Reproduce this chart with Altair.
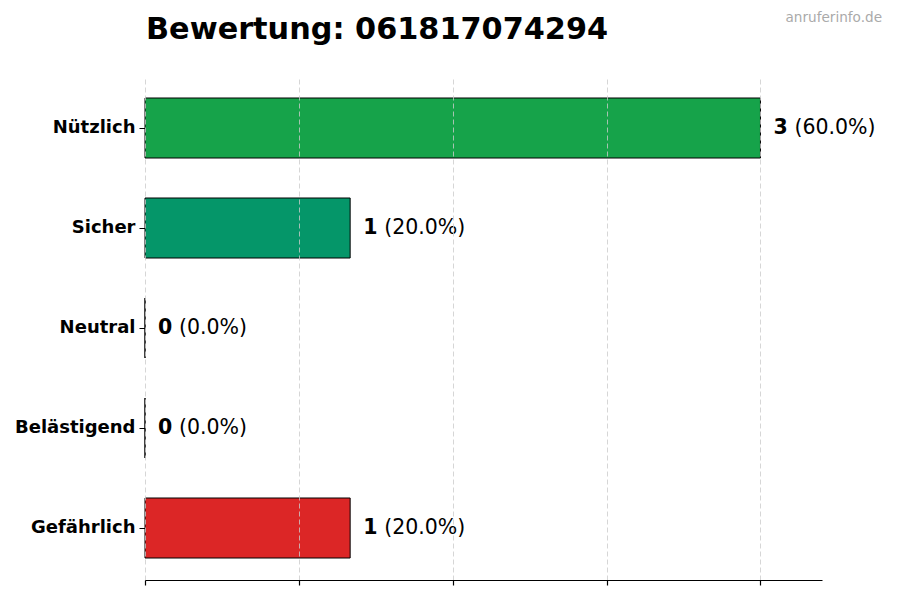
import altair as alt
import pandas as pd

categories = ["Nützlich", "Sicher", "Neutral", "Belästigend", "Gefährlich"]
counts = [3, 1, 0, 0, 1]
colors = ["#16a34a", "#059669", "#6b7280", "#f97316", "#dc2626"]
x_ticks = [0, 0.75, 1.5, 2.25, 3.0]
title_text = "Bewertung: 061817074294"
watermark = "anruferinfo.de"

total = sum(counts)
df = pd.DataFrame({
    "cat": categories,
    "count": counts,
    "color": colors,
    "cnt_label": [str(c) for c in counts],
    "pct_label": [f"({c / total * 100:.1f}%)" for c in counts],
})

FONT = "DejaVu Sans"

x_enc = alt.X("count:Q", scale=alt.Scale(domain=[0, 3.3], nice=False, zero=True),
              axis=alt.Axis(values=x_ticks, labels=False, title=None, grid=True,
                            gridColor="#cccccc", gridDash=[5, 3], gridWidth=0.8,
                            tickSize=5, tickColor="black", tickWidth=1.2,
                            domainColor="black", domainWidth=1.2, zindex=1))
y_enc = alt.Y("cat:N", sort=categories,
              scale=alt.Scale(paddingInner=0.4, paddingOuter=0.22),
              axis=alt.Axis(title=None, domain=False, labelFontWeight="bold",
                            labelFontSize=18, labelColor="black", labelFont=FONT,
                            tickSize=6, tickColor="black", tickWidth=1,
                            labelPadding=4))

base = alt.Chart(df)

bars = base.mark_bar(stroke="black", strokeWidth=1).encode(
    x=x_enc, y=y_enc,
    color=alt.Color("color:N", scale=None),
)

cnt_text = base.mark_text(align="left", baseline="middle", dx=13, fontSize=20.5,
                          fontWeight="bold", font=FONT, color="black").encode(
    x="count:Q", y=alt.Y("cat:N", sort=categories), text="cnt_label:N")

pct_text = base.mark_text(align="left", baseline="middle", dx=34, fontSize=20.5,
                          font=FONT, color="black").encode(
    x="count:Q", y=alt.Y("cat:N", sort=categories), text="pct_label:N")

wm = alt.Chart(pd.DataFrame({"t": [watermark]})).mark_text(
    align="right", baseline="alphabetic", fontSize=13.6, font=FONT, color="#aaaaaa"
).encode(text="t:N", x=alt.value(737), y=alt.value(-54))

ttl = alt.Chart(pd.DataFrame({"t": [title_text]})).mark_text(
    align="left", baseline="alphabetic", fontSize=30.3, font=FONT, fontWeight="bold",
    color="black"
).encode(text="t:N", x=alt.value(1), y=alt.value(-37))

chart = alt.layer(bars, cnt_text, pct_text, wm, ttl).properties(
    width=677, height=504,
    autosize=alt.AutoSizeParams(type="none"),
    padding={"left": 137, "top": 68, "right": 70, "bottom": 12},
).configure(font=FONT).configure_view(stroke="transparent", strokeWidth=0)

chart.save("out.html", embed_options={"renderer": "svg", "actions": False})
